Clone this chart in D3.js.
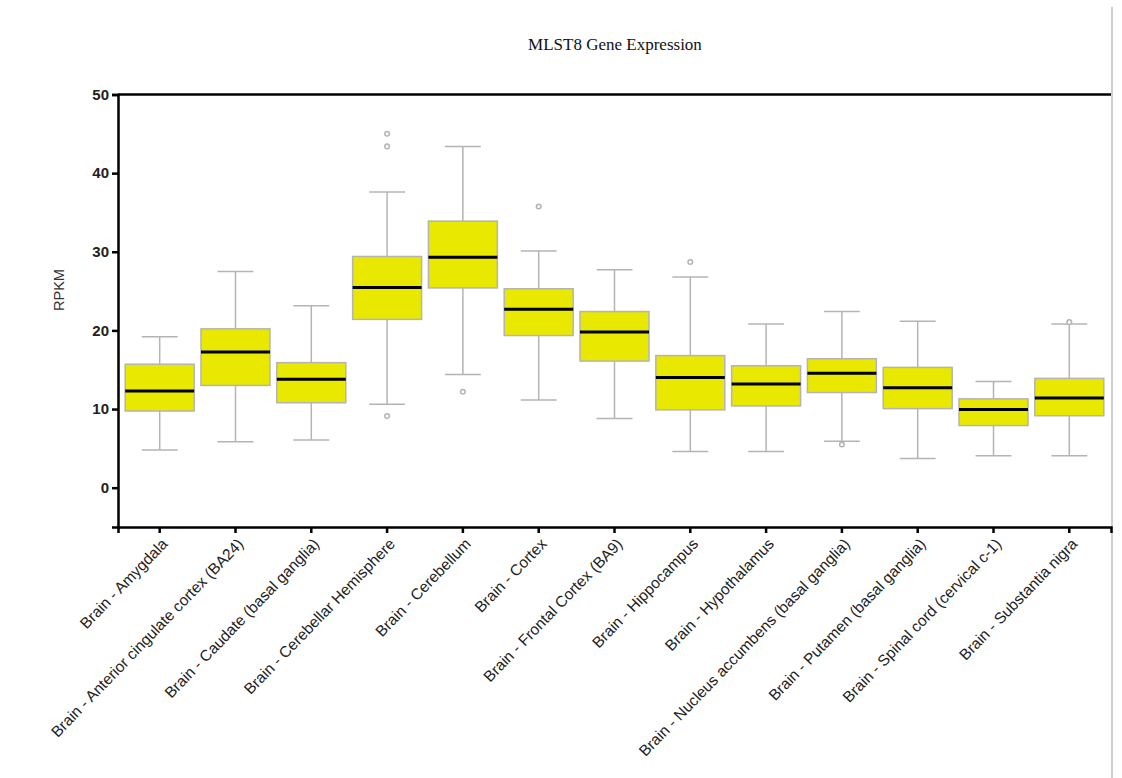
<!DOCTYPE html>
<html>
<head>
<meta charset="utf-8">
<script src="https://cdn.jsdelivr.net/npm/d3@7"></script>
<style>
  body { margin: 0; background: #fff; }
  svg { display: block; }
</style>
</head>
<body>
<svg id="chart" width="1122" height="778"></svg>
<script>
const categories = [
  "Brain - Amygdala",
  "Brain - Anterior cingulate cortex (BA24)",
  "Brain - Caudate (basal ganglia)",
  "Brain - Cerebellar Hemisphere",
  "Brain - Cerebellum",
  "Brain - Cortex",
  "Brain - Frontal Cortex (BA9)",
  "Brain - Hippocampus",
  "Brain - Hypothalamus",
  "Brain - Nucleus accumbens (basal ganglia)",
  "Brain - Putamen (basal ganglia)",
  "Brain - Spinal cord (cervical c-1)",
  "Brain - Substantia nigra"
];
const whiskerLow  = [4.8, 5.85, 6.05, 10.6, 14.4, 11.15, 8.8, 4.6, 4.6, 5.9, 3.7, 4.05, 4.05];
const q1          = [9.75, 13.0, 10.8, 21.4, 25.4, 19.35, 16.1, 9.9, 10.4, 12.1, 10.05, 7.9, 9.15];
const median      = [12.3, 17.25, 13.8, 25.45, 29.3, 22.7, 19.8, 14.0, 13.2, 14.55, 12.7, 9.95, 11.4];
const q3          = [15.7, 20.2, 15.9, 29.4, 33.9, 25.3, 22.4, 16.8, 15.5, 16.4, 15.3, 11.3, 13.9];
const whiskerHigh = [19.2, 27.5, 23.15, 37.6, 43.4, 30.1, 27.7, 26.8, 20.8, 22.4, 21.15, 13.5, 20.8];
const outliers    = [[], [], [], [9.1, 43.4, 45.0], [12.2], [35.75], [], [28.7], [], [5.5], [], [], [21.05]];
const yTicks = [0, 10, 20, 30, 40, 50];
const yDomain = [-5, 50];
const titleText = "MLST8 Gene Expression";
const yLabel = "RPKM";

const svg = d3.select("#chart");
const plotLeft = 118, plotRight = 1111, plotTop = 94.5, plotBottom = 527;

const x = d3.scaleBand().domain(categories).range([plotLeft, plotRight]).paddingOuter(0.05).paddingInner(0);
const y = d3.scaleLinear().domain(yDomain).range([plotBottom, plotTop]);
const boxW = x.bandwidth() * 0.91;
const capW = boxW * 0.52;

// right gray border
svg.append("line").attr("x1", 1112).attr("x2", 1112).attr("y1", 7).attr("y2", 778)
  .attr("stroke", "#cfcfcf").attr("stroke-width", 2);

// title
svg.append("text").attr("x", 615).attr("y", 50).attr("text-anchor", "middle")
  .attr("font-family", "Liberation Serif, Times New Roman, serif").attr("font-size", 17)
  .attr("fill", "#111").text(titleText);

// y label
svg.append("text").attr("transform", "translate(64,290) rotate(-90)").attr("text-anchor", "middle")
  .attr("font-family", "Liberation Sans, Arial, sans-serif").attr("font-size", 14.5)
  .attr("fill", "#333").text(yLabel);

// top frame line
svg.append("line").attr("x1", plotLeft).attr("x2", plotRight).attr("y1", plotTop).attr("y2", plotTop)
  .attr("stroke", "#000").attr("stroke-width", 2.5);

const g = svg.append("g");
categories.forEach((c, i) => {
  const cx = x(c) + x.bandwidth() / 2;
  const grp = g.append("g");
  grp.append("line").attr("x1", cx).attr("x2", cx).attr("y1", y(q3[i])).attr("y2", y(whiskerHigh[i]))
    .attr("stroke", "#b4b4b4").attr("stroke-width", 1.5);
  grp.append("line").attr("x1", cx).attr("x2", cx).attr("y1", y(q1[i])).attr("y2", y(whiskerLow[i]))
    .attr("stroke", "#b4b4b4").attr("stroke-width", 1.5);
  grp.append("line").attr("x1", cx - capW / 2).attr("x2", cx + capW / 2).attr("y1", y(whiskerHigh[i])).attr("y2", y(whiskerHigh[i]))
    .attr("stroke", "#b4b4b4").attr("stroke-width", 1.5);
  grp.append("line").attr("x1", cx - capW / 2).attr("x2", cx + capW / 2).attr("y1", y(whiskerLow[i])).attr("y2", y(whiskerLow[i]))
    .attr("stroke", "#b4b4b4").attr("stroke-width", 1.5);
  grp.append("rect").attr("x", cx - boxW / 2).attr("width", boxW)
    .attr("y", y(q3[i])).attr("height", y(q1[i]) - y(q3[i]))
    .attr("fill", "#e8e800").attr("stroke", "#b4b4b4").attr("stroke-width", 1.5);
  grp.append("line").attr("x1", cx - boxW / 2).attr("x2", cx + boxW / 2).attr("y1", y(median[i])).attr("y2", y(median[i]))
    .attr("stroke", "#000").attr("stroke-width", 3);
  outliers[i].forEach(v => {
    grp.append("circle").attr("cx", cx).attr("cy", y(v)).attr("r", 2.3)
      .attr("fill", "#fff").attr("stroke", "#b4b4b4").attr("stroke-width", 1.5);
  });
});

// y axis
const yAxis = svg.append("g").attr("transform", `translate(${plotLeft},0)`)
  .call(d3.axisLeft(y).tickValues(yTicks).tickSize(6).tickSizeOuter(6).tickPadding(3));
yAxis.select(".domain").attr("stroke-width", 2.5);
yAxis.selectAll(".tick line").attr("stroke-width", 2.5);
yAxis.selectAll("text").attr("font-family", "Liberation Sans, Arial, sans-serif")
  .attr("font-size", 15).attr("font-weight", "bold").attr("fill", "#222");

// x axis
const xAxis = svg.append("g").attr("transform", `translate(0,${plotBottom})`)
  .call(d3.axisBottom(x).tickSize(6).tickSizeOuter(6).tickPadding(4));
xAxis.select(".domain").attr("stroke-width", 2.5);
xAxis.selectAll(".tick line").attr("stroke-width", 2.5);
xAxis.selectAll("text")
  .attr("font-family", "Liberation Sans, Arial, sans-serif").attr("font-size", 15.5).attr("fill", "#222")
  .attr("text-anchor", "end").attr("dy", "0.35em")
  .attr("transform", "translate(5,14) rotate(-46)")
  .attr("y", 0).attr("x", 0);
</script>
</body>
</html>
